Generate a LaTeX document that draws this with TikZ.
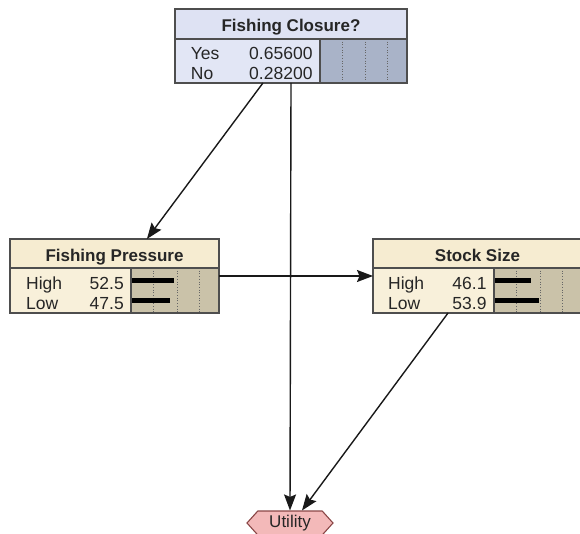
\documentclass[tikz,border=0pt]{standalone}
\usepackage{fontspec}
\setmainfont{Liberation Sans}
\usetikzlibrary{arrows.meta,shapes.symbols,calc,fit}

\definecolor{frame}{HTML}{4E4E4E}
\definecolor{decTitle}{HTML}{DEE2F3}
\definecolor{decBody}{HTML}{E2E6F5}
\definecolor{decBar}{HTML}{A9B3C8}
\definecolor{natTitle}{HTML}{F6ECD1}
\definecolor{natBody}{HTML}{F8F0DA}
\definecolor{natBar}{HTML}{CAC2A9}
\definecolor{utilFill}{HTML}{F3B9B9}
\definecolor{utilLine}{HTML}{8A4646}
\definecolor{gridline}{HTML}{666666}

\tikzset{
  x=1pt, y=-1pt,
  region/.style={rectangle, inner sep=0pt, outer sep=0pt, anchor=north west},
  titletext/.style={font=\fontsize{17}{19}\selectfont\bfseries, text=black!85, anchor=base, inner sep=0pt},
  celltext/.style={font=\fontsize{17.5}{19}\selectfont, text=black!85, inner sep=0pt},
  frameline/.style={draw=frame, line width=1.3pt},
  gridmark/.style={draw=gridline, line width=0.7pt, dotted},
  probbar/.style={fill=black},
  outline/.style={draw=frame, line width=1.3pt, inner sep=0pt, outer sep=0pt},
  link/.style={draw=black!90, line width=1.4pt, -{Stealth[length=16pt,width=12pt,inset=2.5pt]}},
  utility/.style={shape=signal, signal to=east and west, signal pointer angle=96,
    fill=utilFill, draw=utilLine, line width=1.1pt, minimum width=86pt, minimum height=24pt,
    inner sep=0pt, font=\fontsize{17}{19}\selectfont, text=black!85}
}

\begin{document}
\begin{tikzpicture}
\useasboundingbox (0,0) rectangle (580,534);

% ---------- Fishing Closure? (decision node) ----------
\node[region, fill=decTitle, minimum width=232pt, minimum height=30pt] (fcT) at (175,9) {};
\node[region, fill=decBody, minimum width=232pt, minimum height=44pt] (fcB) at (fcT.south west) {};
\fill[decBar] ($(fcB.north west)+(145,0)$) rectangle (fcB.south east);
\foreach \gx in {167,190,212}
  \draw[gridmark] ($(fcB.north west)+(\gx,0)$) -- ($(fcB.south west)+(\gx,0)$);
\node[titletext] at ($(fcT.north)+(0,22.7)$) {Fishing Closure?};
\node[celltext, anchor=base west] at ($(fcB.north west)+(15.7,20.3)$) {Yes};
\node[celltext, anchor=base west] at ($(fcB.north west)+(15.7,40.3)$) {No};
\node[celltext, anchor=base east] at ($(fcB.north west)+(137.7,20.3)$) {0.65600};
\node[celltext, anchor=base east] at ($(fcB.north west)+(137.7,40.3)$) {0.28200};
\draw[frameline] ($(fcB.north west)+(145,0)$) -- ($(fcB.south west)+(145,0)$);
\draw[frameline] (fcT.south west) -- (fcT.south east);
\node[outline, fit=(fcT)(fcB)] (fc) {};

% ---------- Fishing Pressure (chance node) ----------
\node[region, fill=natTitle, minimum width=209pt, minimum height=29pt] (fpT) at (10,239) {};
\node[region, fill=natBody, minimum width=209pt, minimum height=45pt] (fpB) at (fpT.south west) {};
\fill[natBar] ($(fpB.north west)+(121,0)$) rectangle (fpB.south east);
\foreach \gx in {143,167,189}
  \draw[gridmark] ($(fpB.north west)+(\gx,0)$) -- ($(fpB.south west)+(\gx,0)$);
\fill[probbar] ($(fpB.north west)+(121,9.5)$) rectangle ($(fpB.north west)+(164,15.2)$);
\fill[probbar] ($(fpB.north west)+(121,29.5)$) rectangle ($(fpB.north west)+(160,35.2)$);
\node[titletext] at ($(fpT.north)+(0,22.7)$) {Fishing Pressure};
\node[celltext, anchor=base west] at ($(fpB.north west)+(16,21.3)$) {High};
\node[celltext, anchor=base west] at ($(fpB.north west)+(16,41.3)$) {Low};
\node[celltext, anchor=base east] at ($(fpB.north west)+(114,21.3)$) {52.5};
\node[celltext, anchor=base east] at ($(fpB.north west)+(114,41.3)$) {47.5};
\draw[frameline] ($(fpB.north west)+(121,0)$) -- ($(fpB.south west)+(121,0)$);
\draw[frameline] (fpT.south west) -- (fpT.south east);
\node[outline, fit=(fpT)(fpB)] (fp) {};

% ---------- Stock Size (chance node) ----------
\node[region, fill=natTitle, minimum width=209pt, minimum height=29pt] (ssT) at (373,239) {};
\node[region, fill=natBody, minimum width=209pt, minimum height=45pt] (ssB) at (ssT.south west) {};
\fill[natBar] ($(ssB.north west)+(121,0)$) rectangle (ssB.south east);
\foreach \gx in {143,167,189}
  \draw[gridmark] ($(ssB.north west)+(\gx,0)$) -- ($(ssB.south west)+(\gx,0)$);
\fill[probbar] ($(ssB.north west)+(121,9.5)$) rectangle ($(ssB.north west)+(158,15.2)$);
\fill[probbar] ($(ssB.north west)+(121,29.5)$) rectangle ($(ssB.north west)+(166,35.2)$);
\node[titletext] at ($(ssT.north)+(0,22.7)$) {Stock Size};
\node[celltext, anchor=base west] at ($(ssB.north west)+(15,21.3)$) {High};
\node[celltext, anchor=base west] at ($(ssB.north west)+(15,41.3)$) {Low};
\node[celltext, anchor=base east] at ($(ssB.north west)+(113.7,21.3)$) {46.1};
\node[celltext, anchor=base east] at ($(ssB.north west)+(113.7,41.3)$) {53.9};
\draw[frameline] ($(ssB.north west)+(121,0)$) -- ($(ssB.south west)+(121,0)$);
\draw[frameline] (ssT.south west) -- (ssT.south east);
\node[outline, fit=(ssT)(ssB)] (ss) {};

% ---------- Utility ----------
\node[utility] (ut) at (290,523) {Utility};

% ---------- influence links ----------
\draw[link] ($(fc.south west)!0.379!(fc.south east)$) -- ($(fp.north west)!0.655!(fp.north east)$);
\draw[link] (fc.south) -- (ut.north);
\draw[link] (fp.east) -- (ss.west);
\draw[link] ($(ss.south west)!0.359!(ss.south east)$) -- ($(ut.north)+(12,0)$);
\end{tikzpicture}
\end{document}
